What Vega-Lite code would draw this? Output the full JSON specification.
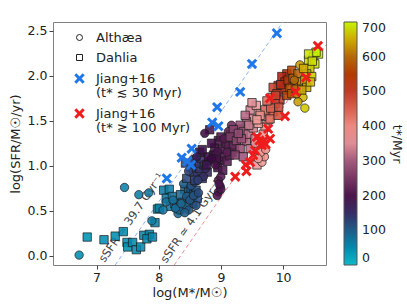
{
  "$schema": "https://vega.github.io/schema/vega-lite/v6.json",
  "width": 273,
  "height": 243,
  "autosize": {"type": "none"},
  "padding": {"left": 53, "top": 22, "right": 81, "bottom": 40},
  "config": {
    "font": "DejaVu Sans",
    "view": {"stroke": "#808080", "strokeWidth": 1},
    "axis": {"domain": false, "grid": false, "tickColor": "#444", "tickSize": 4, "labelFontSize": 12.5, "labelColor": "#222", "titleFontSize": 13, "titleColor": "#222", "titleFontWeight": "normal", "labelPadding": 2}
  },
  "datasets": {
    "pts": [
      {"m":6.85,"y":0.21,"t":40,"s":"Dahlia"},{"m":7.12,"y":0.18,"t":42,"s":"Dahlia"},{"m":7.30,"y":0.22,"t":45,"s":"Dahlia"},{"m":7.43,"y":0.27,"t":48,"s":"Dahlia"},{"m":7.49,"y":0.15,"t":45,"s":"Dahlia"},{"m":7.50,"y":0.10,"t":46,"s":"Dahlia"},{"m":7.58,"y":0.15,"t":50,"s":"Dahlia"},{"m":7.64,"y":0.07,"t":48,"s":"Dahlia"},{"m":7.71,"y":0.10,"t":50,"s":"Dahlia"},{"m":7.76,"y":0.23,"t":55,"s":"Dahlia"},{"m":7.85,"y":0.24,"t":55,"s":"Dahlia"},{"m":7.81,"y":0.19,"t":52,"s":"Dahlia"},{"m":7.90,"y":0.21,"t":55,"s":"Dahlia"},{"m":7.94,"y":0.37,"t":60,"s":"Dahlia"},{"m":7.98,"y":0.52,"t":62,"s":"Dahlia"},{"m":8.08,"y":0.73,"t":65,"s":"Dahlia"},{"m":8.17,"y":0.74,"t":68,"s":"Dahlia"},{"m":8.01,"y":0.53,"t":62,"s":"Dahlia"},{"m":8.19,"y":0.55,"t":70,"s":"Dahlia"},{"m":8.26,"y":0.58,"t":75,"s":"Dahlia"},{"m":8.29,"y":0.54,"t":78,"s":"Dahlia"},{"m":8.34,"y":0.52,"t":80,"s":"Dahlia"},{"m":8.12,"y":0.64,"t":66,"s":"Dahlia"},{"m":8.22,"y":0.66,"t":72,"s":"Dahlia"},{"m":8.42,"y":0.74,"t":90,"s":"Dahlia"},{"m":8.48,"y":0.71,"t":95,"s":"Dahlia"},{"m":8.52,"y":0.75,"t":100,"s":"Dahlia"},{"m":8.46,"y":0.62,"t":92,"s":"Dahlia"},{"m":8.56,"y":0.68,"t":105,"s":"Dahlia"},{"m":8.60,"y":0.73,"t":110,"s":"Dahlia"},{"m":8.38,"y":0.60,"t":85,"s":"Dahlia"},{"m":8.55,"y":0.58,"t":100,"s":"Dahlia"},{"m":8.62,"y":0.64,"t":112,"s":"Dahlia"},{"m":8.35,"y":0.68,"t":88,"s":"Dahlia"},{"m":8.44,"y":0.55,"t":90,"s":"Dahlia"},{"m":8.50,"y":0.66,"t":98,"s":"Dahlia"},
      {"m":6.72,"y":0.01,"t":45,"s":"Althæa"},{"m":7.45,"y":0.76,"t":60,"s":"Althæa"},{"m":7.68,"y":0.68,"t":65,"s":"Althæa"},{"m":7.84,"y":0.70,"t":68,"s":"Althæa"},{"m":7.89,"y":0.39,"t":62,"s":"Althæa"},{"m":8.07,"y":0.51,"t":70,"s":"Althæa"},{"m":8.12,"y":0.60,"t":75,"s":"Althæa"},{"m":8.23,"y":0.62,"t":80,"s":"Althæa"},{"m":8.31,"y":0.47,"t":85,"s":"Althæa"},{"m":8.33,"y":0.51,"t":88,"s":"Althæa"},{"m":8.40,"y":0.80,"t":95,"s":"Althæa"},{"m":8.45,"y":0.66,"t":100,"s":"Althæa"},{"m":8.48,"y":0.51,"t":105,"s":"Althæa"},{"m":8.50,"y":0.62,"t":108,"s":"Althæa"},{"m":8.56,"y":0.67,"t":110,"s":"Althæa"},{"m":8.60,"y":0.56,"t":115,"s":"Althæa"},{"m":8.64,"y":0.70,"t":120,"s":"Althæa"},{"m":8.27,"y":0.53,"t":82,"s":"Althæa"},{"m":8.52,"y":0.78,"t":112,"s":"Althæa"},{"m":8.58,"y":0.82,"t":118,"s":"Althæa"},{"m":8.36,"y":0.58,"t":90,"s":"Althæa"},{"m":8.42,"y":0.48,"t":95,"s":"Althæa"},
      {"m":8.45,"y":0.86,"t":125,"s":"Dahlia"},{"m":8.56,"y":0.93,"t":135,"s":"Dahlia"},{"m":8.62,"y":0.90,"t":140,"s":"Dahlia"},{"m":8.66,"y":0.97,"t":145,"s":"Dahlia"},{"m":8.72,"y":1.01,"t":150,"s":"Dahlia"},{"m":8.60,"y":1.03,"t":140,"s":"Dahlia"},{"m":8.70,"y":0.86,"t":140,"s":"Dahlia"},{"m":8.52,"y":0.98,"t":130,"s":"Dahlia"},{"m":8.78,"y":0.93,"t":155,"s":"Dahlia"},{"m":8.68,"y":1.08,"t":150,"s":"Dahlia"},{"m":8.43,"y":1.03,"t":128,"s":"Dahlia"},{"m":8.58,"y":0.84,"t":130,"s":"Dahlia"},
      {"m":8.72,"y":0.88,"t":150,"s":"Althæa"},{"m":8.63,"y":0.84,"t":135,"s":"Althæa"},{"m":8.55,"y":1.07,"t":138,"s":"Althæa"},{"m":8.80,"y":1.05,"t":160,"s":"Althæa"},{"m":8.48,"y":0.94,"t":128,"s":"Althæa"},{"m":8.75,"y":0.97,"t":155,"s":"Althæa"},
      {"m":8.66,"y":1.15,"t":170,"s":"Dahlia"},{"m":8.80,"y":1.10,"t":180,"s":"Dahlia"},{"m":8.88,"y":1.12,"t":185,"s":"Dahlia"},{"m":8.99,"y":1.06,"t":195,"s":"Dahlia"},{"m":8.77,"y":1.01,"t":170,"s":"Dahlia"},{"m":8.90,"y":1.20,"t":190,"s":"Dahlia"},{"m":9.02,"y":1.18,"t":200,"s":"Dahlia"},{"m":9.07,"y":1.25,"t":210,"s":"Dahlia"},{"m":9.12,"y":1.22,"t":215,"s":"Dahlia"},{"m":9.20,"y":1.30,"t":230,"s":"Dahlia"},{"m":9.25,"y":1.27,"t":235,"s":"Dahlia"},{"m":9.31,"y":1.41,"t":255,"s":"Dahlia"},{"m":9.36,"y":1.32,"t":260,"s":"Dahlia"},{"m":8.82,"y":1.40,"t":195,"s":"Dahlia"},{"m":8.96,"y":1.28,"t":200,"s":"Dahlia"},{"m":9.15,"y":1.35,"t":225,"s":"Dahlia"},{"m":9.05,"y":1.10,"t":205,"s":"Dahlia"},{"m":9.18,"y":1.15,"t":220,"s":"Dahlia"},{"m":8.85,"y":1.25,"t":185,"s":"Dahlia"},{"m":8.95,"y":0.98,"t":190,"s":"Dahlia"},{"m":9.10,"y":1.05,"t":215,"s":"Dahlia"},{"m":9.22,"y":1.20,"t":235,"s":"Dahlia"},{"m":9.00,"y":1.32,"t":205,"s":"Dahlia"},{"m":8.70,"y":1.18,"t":175,"s":"Dahlia"},{"m":8.93,"y":1.08,"t":190,"s":"Dahlia"},{"m":9.03,"y":0.95,"t":200,"s":"Dahlia"},{"m":9.14,"y":1.12,"t":220,"s":"Dahlia"},
      {"m":8.61,"y":1.10,"t":165,"s":"Althæa"},{"m":8.74,"y":1.36,"t":185,"s":"Althæa"},{"m":9.17,"y":1.45,"t":230,"s":"Althæa"},{"m":9.12,"y":1.38,"t":225,"s":"Althæa"},{"m":8.91,"y":1.01,"t":190,"s":"Althæa"},{"m":9.05,"y":1.30,"t":210,"s":"Althæa"},{"m":9.20,"y":1.23,"t":230,"s":"Althæa"},{"m":8.85,"y":1.08,"t":180,"s":"Althæa"},{"m":9.10,"y":1.15,"t":215,"s":"Althæa"},{"m":8.95,"y":1.16,"t":195,"s":"Althæa"},{"m":9.28,"y":1.33,"t":245,"s":"Althæa"},
      {"m":8.96,"y":0.84,"t":195,"s":"Althæa"},{"m":8.99,"y":0.77,"t":200,"s":"Althæa"},{"m":8.96,"y":0.71,"t":195,"s":"Althæa"},{"m":8.94,"y":0.67,"t":195,"s":"Althæa"},{"m":9.00,"y":0.74,"t":200,"s":"Althæa"},{"m":8.97,"y":0.80,"t":198,"s":"Althæa"},{"m":9.00,"y":0.88,"t":205,"s":"Althæa"},
      {"m":9.47,"y":1.62,"t":340,"s":"Dahlia"},{"m":9.57,"y":1.67,"t":360,"s":"Dahlia"},{"m":9.63,"y":1.58,"t":370,"s":"Dahlia"},{"m":9.52,"y":1.52,"t":350,"s":"Dahlia"},{"m":9.41,"y":1.49,"t":320,"s":"Dahlia"},{"m":9.31,"y":1.45,"t":290,"s":"Dahlia"},{"m":9.36,"y":1.38,"t":300,"s":"Dahlia"},{"m":9.20,"y":1.40,"t":270,"s":"Dahlia"},{"m":9.15,"y":1.32,"t":260,"s":"Dahlia"},{"m":9.25,"y":1.28,"t":275,"s":"Dahlia"},{"m":9.41,"y":1.27,"t":310,"s":"Dahlia"},{"m":9.31,"y":1.19,"t":285,"s":"Dahlia"},{"m":9.47,"y":1.19,"t":320,"s":"Dahlia"},{"m":9.23,"y":1.12,"t":265,"s":"Dahlia"},{"m":9.36,"y":1.10,"t":290,"s":"Dahlia"},{"m":9.63,"y":1.12,"t":370,"s":"Dahlia"},{"m":9.58,"y":1.01,"t":360,"s":"Dahlia"},{"m":9.71,"y":1.43,"t":390,"s":"Dahlia"},{"m":9.76,"y":1.51,"t":400,"s":"Dahlia"},{"m":9.44,"y":1.35,"t":320,"s":"Dahlia"},{"m":9.52,"y":1.42,"t":340,"s":"Dahlia"},{"m":9.55,"y":1.30,"t":345,"s":"Dahlia"},{"m":9.60,"y":1.47,"t":365,"s":"Dahlia"},{"m":9.66,"y":1.55,"t":380,"s":"Dahlia"},{"m":9.39,"y":1.56,"t":315,"s":"Dahlia"},{"m":9.50,"y":1.70,"t":350,"s":"Dahlia"},{"m":9.33,"y":1.30,"t":290,"s":"Dahlia"},{"m":9.28,"y":1.36,"t":280,"s":"Dahlia"},{"m":9.45,"y":1.45,"t":330,"s":"Dahlia"},{"m":9.68,"y":1.35,"t":385,"s":"Dahlia"},{"m":9.73,"y":1.60,"t":400,"s":"Dahlia"},
      {"m":9.66,"y":1.04,"t":380,"s":"Althæa"},{"m":9.70,"y":1.10,"t":390,"s":"Althæa"},{"m":9.64,"y":1.15,"t":375,"s":"Althæa"},{"m":9.72,"y":1.18,"t":395,"s":"Althæa"},{"m":9.60,"y":1.08,"t":370,"s":"Althæa"},{"m":9.55,"y":1.25,"t":355,"s":"Althæa"},
      {"m":10.06,"y":2.02,"t":540,"s":"Dahlia"},{"m":10.14,"y":2.06,"t":560,"s":"Dahlia"},{"m":9.98,"y":1.99,"t":530,"s":"Dahlia"},{"m":10.03,"y":1.93,"t":535,"s":"Dahlia"},{"m":9.92,"y":1.89,"t":510,"s":"Dahlia"},{"m":9.84,"y":1.87,"t":490,"s":"Dahlia"},{"m":10.00,"y":1.84,"t":520,"s":"Dahlia"},{"m":9.90,"y":1.80,"t":500,"s":"Dahlia"},{"m":9.82,"y":1.76,"t":470,"s":"Dahlia"},{"m":9.95,"y":1.73,"t":500,"s":"Dahlia"},{"m":9.87,"y":1.69,"t":470,"s":"Dahlia"},{"m":9.76,"y":1.67,"t":430,"s":"Dahlia"},{"m":9.71,"y":1.62,"t":420,"s":"Dahlia"},{"m":9.84,"y":1.60,"t":450,"s":"Dahlia"},{"m":9.63,"y":1.56,"t":390,"s":"Dahlia"},{"m":9.79,"y":1.52,"t":430,"s":"Dahlia"},{"m":9.58,"y":1.51,"t":380,"s":"Dahlia"},{"m":9.92,"y":1.56,"t":470,"s":"Dahlia"},{"m":9.80,"y":1.64,"t":450,"s":"Dahlia"},{"m":9.88,"y":1.78,"t":490,"s":"Dahlia"},{"m":9.96,"y":1.90,"t":520,"s":"Dahlia"},{"m":10.08,"y":1.95,"t":545,"s":"Dahlia"},{"m":9.74,"y":1.72,"t":430,"s":"Dahlia"},{"m":9.93,"y":1.65,"t":480,"s":"Dahlia"},
      {"m":10.16,"y":1.97,"t":580,"s":"Dahlia"},{"m":10.24,"y":2.02,"t":600,"s":"Dahlia"},{"m":10.19,"y":1.89,"t":590,"s":"Dahlia"},{"m":10.11,"y":1.86,"t":570,"s":"Dahlia"},{"m":10.30,"y":1.93,"t":620,"s":"Dahlia"},{"m":10.06,"y":1.78,"t":555,"s":"Dahlia"},{"m":10.14,"y":1.80,"t":580,"s":"Dahlia"},{"m":10.21,"y":1.85,"t":600,"s":"Dahlia"},
      {"m":10.27,"y":2.12,"t":640,"s":"Althæa"},{"m":10.32,"y":1.76,"t":660,"s":"Althæa"},{"m":10.35,"y":1.64,"t":670,"s":"Althæa"},{"m":10.24,"y":1.71,"t":640,"s":"Althæa"},{"m":10.22,"y":1.80,"t":620,"s":"Althæa"},{"m":10.18,"y":1.95,"t":600,"s":"Althæa"},
      {"m":10.57,"y":2.24,"t":700,"s":"Dahlia"},{"m":10.49,"y":2.21,"t":690,"s":"Dahlia"},{"m":10.41,"y":2.17,"t":680,"s":"Dahlia"},{"m":10.51,"y":2.13,"t":690,"s":"Dahlia"},{"m":10.43,"y":2.08,"t":670,"s":"Dahlia"},{"m":10.38,"y":2.02,"t":660,"s":"Dahlia"},{"m":10.46,"y":1.99,"t":670,"s":"Dahlia"},{"m":10.35,"y":1.95,"t":650,"s":"Dahlia"},{"m":10.38,"y":1.87,"t":650,"s":"Dahlia"},{"m":10.30,"y":1.84,"t":640,"s":"Dahlia"},{"m":10.53,"y":2.26,"t":700,"s":"Dahlia"},{"m":10.41,"y":2.24,"t":690,"s":"Dahlia"},{"m":10.47,"y":2.16,"t":685,"s":"Dahlia"},{"m":10.33,"y":2.08,"t":650,"s":"Dahlia"},{"m":10.44,"y":1.93,"t":660,"s":"Dahlia"}
    ],
    "jiang": [
      {"m":9.90,"y":2.47,"s":"J30"},{"m":9.50,"y":2.13,"s":"J30"},{"m":9.31,"y":1.82,"s":"J30"},{"m":8.94,"y":1.65,"s":"J30"},{"m":8.86,"y":1.48,"s":"J30"},{"m":8.96,"y":1.44,"s":"J30"},{"m":8.53,"y":1.19,"s":"J30"},{"m":8.37,"y":1.09,"s":"J30"},{"m":8.46,"y":1.05,"s":"J30"},{"m":8.52,"y":1.01,"s":"J30"},{"m":8.13,"y":0.86,"s":"J30"},
      {"m":10.56,"y":2.33,"s":"J100"},{"m":10.37,"y":1.98,"s":"J100"},{"m":10.20,"y":1.82,"s":"J100"},{"m":9.79,"y":1.75,"s":"J100"},{"m":10.03,"y":1.55,"s":"J100"},{"m":9.76,"y":1.41,"s":"J100"},{"m":9.58,"y":1.32,"s":"J100"},{"m":9.79,"y":1.30,"s":"J100"},{"m":9.66,"y":1.23,"s":"J100"},{"m":9.72,"y":1.24,"s":"J100"},{"m":9.62,"y":1.28,"s":"J100"},{"m":9.52,"y":1.12,"s":"J100"},{"m":9.55,"y":1.17,"s":"J100"},{"m":9.47,"y":1.04,"s":"J100"},{"m":9.41,"y":0.94,"s":"J100"},{"m":9.40,"y":1.01,"s":"J100"},{"m":9.23,"y":0.88,"s":"J100"},{"m":9.68,"y":1.27,"s":"J100"}
    ],
    "lines": [
      {"m":7.30,"y":-0.10,"line":"hi"},{"m":9.995,"y":2.595,"line":"hi"},
      {"m":8.25,"y":-0.10,"line":"lo"},{"m":10.69,"y":2.34,"line":"lo"}
    ],
    "notes": [
      {"m":7.57,"y":0.42,"label":"sSFR ≃ 39.7 Gyr⁻¹"},
      {"m":8.53,"y":0.38,"label":"sSFR ≃ 4.1 Gyr⁻¹"}
    ]
  },
  "encoding": {
    "x": {"field":"m","type":"quantitative","scale":{"domain":[6.3,10.69],"nice":false,"zero":false},"axis":{"values":[7,8,9,10],"title":"log(M*/M☉)","titlePadding":3}},
    "y": {"field":"y","type":"quantitative","scale":{"domain":[-0.1,2.595],"nice":false,"zero":false},"axis":{"values":[0,0.5,1,1.5,2,2.5],"format":".1f","title":"log(SFR/M☉/yr)","titlePadding":5}}
  },
  "layer": [
    {"data":{"name":"lines"},"transform":[{"filter":"datum.line==='hi'"}],"mark":{"type":"line","stroke":"#8ab4f0","strokeWidth":1,"strokeDash":[4,3],"clip":true},"encoding":{}},
    {"data":{"name":"lines"},"transform":[{"filter":"datum.line==='lo'"}],"mark":{"type":"line","stroke":"#f08c8c","strokeWidth":1,"strokeDash":[4,3],"clip":true},"encoding":{}},
    {"data":{"name":"notes"},"mark":{"type":"text","angle":-55.4,"align":"center","baseline":"middle","fontSize":11.5,"color":"#444"},"encoding":{"text":{"field":"label"}}},
    {"data":{"name":"pts"},"mark":{"type":"point","filled":true,"size":70,"stroke":"#1a1a1a","strokeWidth":0.7,"fillOpacity":0.88,"opacity":1},
     "encoding":{
       "color":{"field":"t","type":"quantitative","scale":{"domain":[0,100,180,300,370,450,530,600,700],"range":["#10b8c8","#1f5c88","#3a0a42","#a35a7c","#f4a4a0","#d86050","#b0200a","#b46808","#c8f400"]},
         "legend":{"orient":"right","offset":18,"gradientLength":243,"gradientThickness":13,"values":[0,100,200,300,400,500,600,700],"title":"t*/Myr","titleOrient":"right","titleAngle":90,"titlePadding":4,"titleFontSize":12.5,"titleFontWeight":"normal","titleColor":"#222","labelFontSize":12.5,"labelColor":"#222","labelOffset":5,"gradientStrokeColor":"#555","gradientStrokeWidth":1,"padding":0}},
       "shape":{"field":"s","type":"nominal","scale":{"domain":["Althæa","Dahlia","J30","J100"],"range":["circle","square","M-1,-0.6L-0.6,-1L0,-0.4L0.6,-1L1,-0.6L0.4,0L1,0.6L0.6,1L0,0.4L-0.6,1L-1,0.6L-0.4,0Z","M-1,-0.6L-0.6,-1L0,-0.4L0.6,-1L1,-0.6L0.4,0L1,0.6L0.6,1L0,0.4L-0.6,1L-1,0.6L-0.4,0Z"]},
         "legend":{"orient":"none","legendX":20,"legendY":9,"title":null,"padding":0,"labelFontSize":13,"labelColor":"#222","labelOffset":10,"rowPadding":6,
           "labelExpr":"datum.value === 'J30' ? ['Jiang+16', '(t* ≲ 30 Myr)'] : datum.value === 'J100' ? ['Jiang+16', '(t* ≳ 100 Myr)'] : datum.label",
           "encoding":{
             "symbols":{
               "fill":{"value":{"expr":"datum.value === 'J30' ? '#1f77e8' : datum.value === 'J100' ? '#ee1c1c' : 'white'"}},
               "stroke":{"value":{"expr":"datum.value === 'J30' || datum.value === 'J100' ? 'transparent' : '#222'"}},
               "strokeWidth":{"value":1},
               "opacity":{"value":1},
               "fillOpacity":{"value":1},
               "size":{"value":{"expr":"datum.value === 'J30' || datum.value === 'J100' ? 110 : 36"}}
             },
             "labels":{"lineHeight":{"value":14.5}}
           }}}
     }},
    {"data":{"name":"jiang"},"mark":{"type":"point","filled":true,"size":110,"opacity":1,"fillOpacity":1},
     "encoding":{
       "shape":{"field":"s","type":"nominal"},
       "color":{"condition":{"test":"datum.s === 'J30'","value":"#1f77e8"},"value":"#ee1c1c"}
     }}
  ]
}
